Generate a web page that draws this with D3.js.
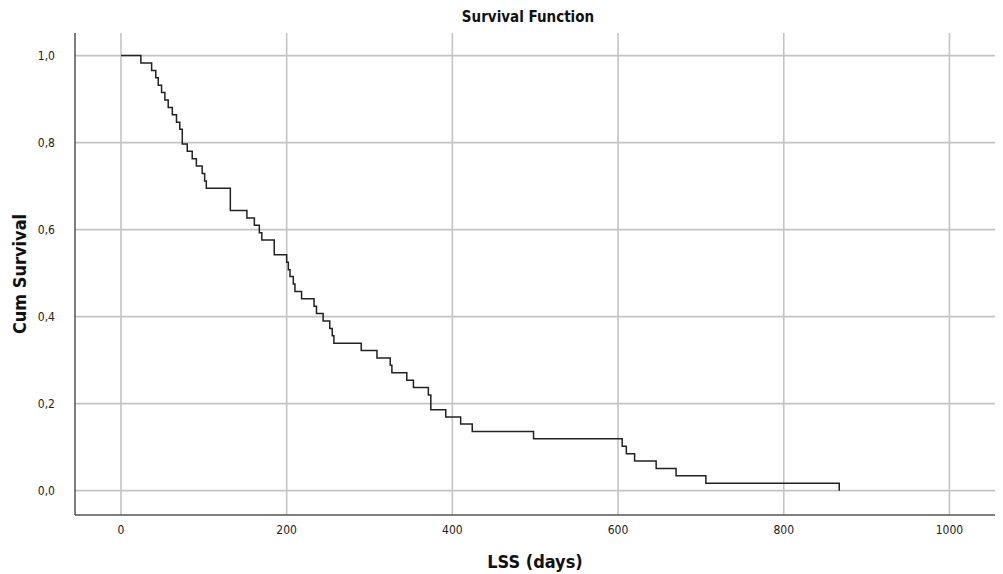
<!DOCTYPE html>
<html lang="en">

<head>
  <meta charset="utf-8">
  <title>Survival Function</title>
  <script src="https://d3js.org/d3.v7.min.js"></script>
</head>

<body style="margin:0; background:#fff;">
  <style>
    text {
      font-family: "DejaVu Sans", sans-serif;
      font-stretch: condensed;
      fill: #111;
    }

    .grid line {
      stroke: #c4c4c4;
      stroke-width: 1.6px;
    }

    .axis-line {
      stroke: #555;
      stroke-width: 1.5px;
    }

    .tick-label {
      font-size: 12px;
      fill: #222;
    }

    .title {
      font-size: 15px;
      font-weight: bold;
    }

    .axis-title {
      font-size: 18px;
      font-weight: bold;
    }

    .line {
      fill: none;
      stroke: #222;
      stroke-width: 1.5px;
    }
  </style>

  <svg width="1003" height="574"></svg>

  <script>
    // event times (days) and Kaplan-Meier survival
    var days = [0, 24, 37, 42, 45, 49, 53, 57, 62, 67,
                71, 74, 80, 86, 91, 98, 101, 103, 132, 152,
                161, 167, 170, 185, 200, 202, 204, 208, 210, 218,
                233, 236, 244, 252, 255, 257, 290, 309, 325, 327,
                345, 353, 371, 374, 392, 410, 424, 498, 605, 610,
                620, 646, 670, 706, 867];
    var survival = [1.000, 0.983, 0.966, 0.949, 0.932, 0.915, 0.898, 0.881, 0.864, 0.847,
                    0.831, 0.797, 0.780, 0.763, 0.746, 0.729, 0.712, 0.695, 0.644, 0.627,
                    0.610, 0.593, 0.576, 0.542, 0.525, 0.508, 0.492, 0.475, 0.458, 0.441,
                    0.424, 0.407, 0.390, 0.373, 0.356, 0.339, 0.322, 0.305, 0.288, 0.271,
                    0.254, 0.237, 0.220, 0.186, 0.169, 0.153, 0.136, 0.119, 0.102, 0.085,
                    0.068, 0.051, 0.034, 0.017, 0.000];

    var xTicks = [0, 200, 400, 600, 800, 1000];
    var yTicks = [0, 0.2, 0.4, 0.6, 0.8, 1.0];
    var yTickLabels = ["0,0", "0,2", "0,4", "0,6", "0,8", "1,0"];

    var svg = d3.select("svg"),
        plotLeft = 75, plotRight = 995, plotTop = 33, plotBottom = 515;

    var x = d3.scaleLinear().domain([-55.5, 1055]).range([plotLeft, plotRight]),
        y = d3.scaleLinear().domain([-0.056, 1.052]).range([plotBottom, plotTop]);

    var data = days.map(function(d, i) { return {t: d, s: survival[i]}; });

    // gridlines
    var grid = svg.append("g").attr("class", "grid");
    grid.selectAll(".gx")
      .data(xTicks)
      .enter().append("line")
        .attr("x1", function(d) { return x(d); })
        .attr("x2", function(d) { return x(d); })
        .attr("y1", plotTop)
        .attr("y2", plotBottom);
    grid.selectAll(".gy")
      .data(yTicks)
      .enter().append("line")
        .attr("x1", plotLeft)
        .attr("x2", plotRight)
        .attr("y1", function(d) { return y(d); })
        .attr("y2", function(d) { return y(d); });

    // axis lines
    svg.append("line").attr("class", "axis-line")
        .attr("x1", plotLeft).attr("x2", plotLeft).attr("y1", plotTop).attr("y2", plotBottom);
    svg.append("line").attr("class", "axis-line")
        .attr("x1", plotLeft).attr("x2", plotRight).attr("y1", plotBottom).attr("y2", plotBottom);

    // tick labels
    svg.selectAll(".xl")
      .data(xTicks)
      .enter().append("text")
        .attr("class", "tick-label")
        .attr("x", function(d) { return x(d); })
        .attr("y", plotBottom + 19)
        .attr("text-anchor", "middle")
        .text(function(d) { return d; });

    svg.selectAll(".yl")
      .data(yTicks)
      .enter().append("text")
        .attr("class", "tick-label")
        .attr("x", plotLeft - 20)
        .attr("y", function(d) { return y(d); })
        .attr("dy", "0.35em")
        .attr("text-anchor", "end")
        .text(function(d, i) { return yTickLabels[i]; });

    // the survival step curve
    var line = d3.line()
        .curve(d3.curveStepAfter)
        .x(function(d) { return x(d.t); })
        .y(function(d) { return y(d.s); });

    svg.append("path")
        .datum(data)
        .attr("class", "line")
        .attr("d", line);

    // titles
    svg.append("text")
        .attr("class", "title")
        .attr("x", 528)
        .attr("y", 22)
        .attr("text-anchor", "middle")
        .text("Survival Function");

    svg.append("text")
        .attr("class", "axis-title")
        .attr("x", (plotLeft + plotRight) / 2)
        .attr("y", 568)
        .attr("text-anchor", "middle")
        .text("LSS (days)");

    svg.append("text")
        .attr("class", "axis-title")
        .attr("transform", "translate(26," + ((plotTop + plotBottom) / 2) + ") rotate(-90)")
        .attr("text-anchor", "middle")
        .text("Cum Survival");
  </script>
</body>
</html>
